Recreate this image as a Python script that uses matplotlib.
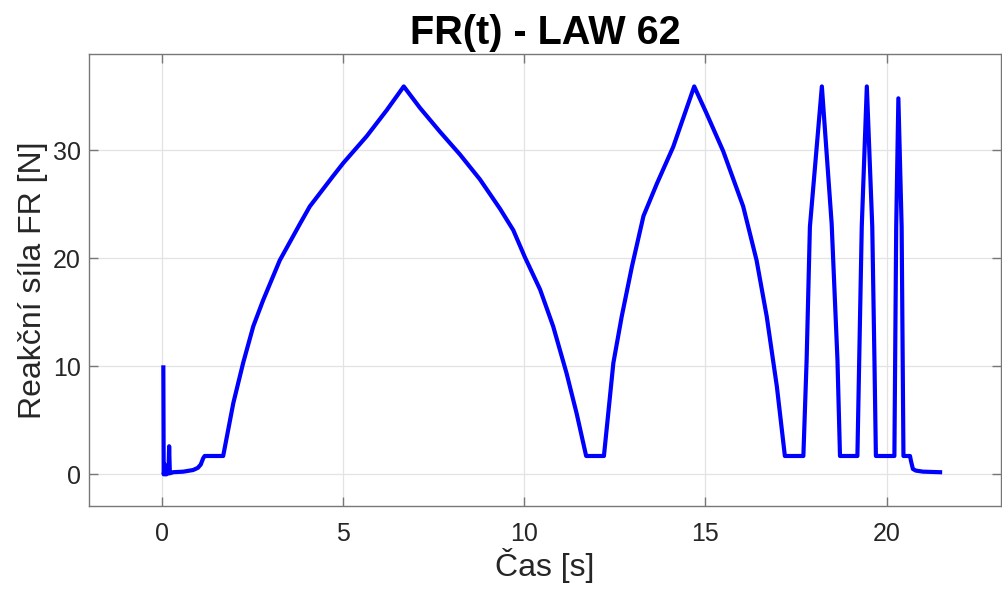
import matplotlib
matplotlib.use("Agg")
import matplotlib.pyplot as plt

# Data
time_s = [0.05, 0.06, 0.08, 0.09, 0.11, 0.13, 0.19, 0.21, 0.23, 0.28, 0.32, 0.60, 0.87,
          1.00, 1.08, 1.15, 1.19, 1.70, 1.98, 2.25, 2.53, 2.80, 3.26, 3.82, 4.09,
          4.73, 5.01, 5.66, 6.21, 6.68, 7.13, 7.68, 8.23, 8.78, 9.33, 9.70, 10.02,
          10.44, 10.80, 11.17, 11.45, 11.71, 12.20, 12.46, 12.69, 12.97, 13.29,
          13.66, 14.11, 14.69, 15.03, 15.49, 16.04, 16.41, 16.69, 16.97, 17.19,
          17.70, 17.79, 17.88, 18.21, 18.48, 18.64, 18.71, 19.19, 19.24, 19.31,
          19.45, 19.60, 19.66, 19.70, 20.21, 20.26, 20.32, 20.41, 20.46, 20.64,
          20.67, 20.72, 20.80, 21.00, 21.47]
force_n = [9.9, 0.0, 0.5, 0.9, 0.0, 0.0, 0.1, 2.6, 0.1, 0.15, 0.2, 0.25, 0.4,
           0.6, 0.9, 1.5, 1.7, 1.7, 6.6, 10.3, 13.7, 16.1, 19.8, 23.2, 24.8,
           27.6, 28.8, 31.3, 33.7, 35.9, 33.9, 31.7, 29.6, 27.3, 24.6, 22.6, 20.1,
           17.1, 13.7, 9.35, 5.6, 1.7, 1.7, 10.3, 14.6, 19.2, 23.9,
           26.9, 30.3, 35.9, 33.4, 29.9, 24.8, 19.8, 14.6, 8.1, 1.7,
           1.7, 10.6, 22.9, 35.9, 23.2, 10.6, 1.7, 1.7, 10.6, 22.9,
           35.9, 22.9, 10.6, 1.7, 1.7, 22.9, 34.8, 22.9, 1.7, 1.7,
           1.2, 0.5, 0.35, 0.25, 0.2]

x_ticks = [0, 5, 10, 15, 20]
y_ticks = [0, 10, 20, 30]

title_text = "FR(t) - LAW 62"
x_label = "Čas [s]"
y_label = "Reakční síla FR [N]"

plt.rcParams['font.family'] = ['Liberation Sans', 'DejaVu Sans']

fig = plt.figure(figsize=(10.02, 5.91), dpi=100)
ax = fig.add_axes([89 / 1002, 1 - 505.7 / 591, (1001 - 89) / 1002, (505.7 - 54) / 591])

ax.plot(time_s, force_n, color=(0, 0, 1), linewidth=3.0, solid_joinstyle='round')

ax.set_xlim(-2.0, 23.15)
ax.set_ylim(-2.9, 38.9)
ax.set_xticks(x_ticks)
ax.set_yticks(y_ticks)

axis_gray = '#777777'
text_gray = '#262626'
for s in ax.spines.values():
    s.set_color(axis_gray)
    s.set_linewidth(1.0)
ax.tick_params(direction='in', length=6.5, width=1.0, color=axis_gray,
               labelcolor=text_gray, labelsize=18, top=True, right=True)
ax.tick_params(axis='x', pad=12)
ax.tick_params(axis='y', pad=6)
ax.grid(True, color='#e3e3e3', linewidth=0.9)
ax.set_axisbelow(True)

ax.set_title(title_text, fontsize=28.5, fontweight='bold', color='black', pad=7)
ax.set_xlabel(x_label, fontsize=23, color=text_gray, labelpad=1)
ax.set_ylabel(y_label, fontsize=23, color=text_gray, labelpad=3)

fig.savefig("out.png", dpi=100)
